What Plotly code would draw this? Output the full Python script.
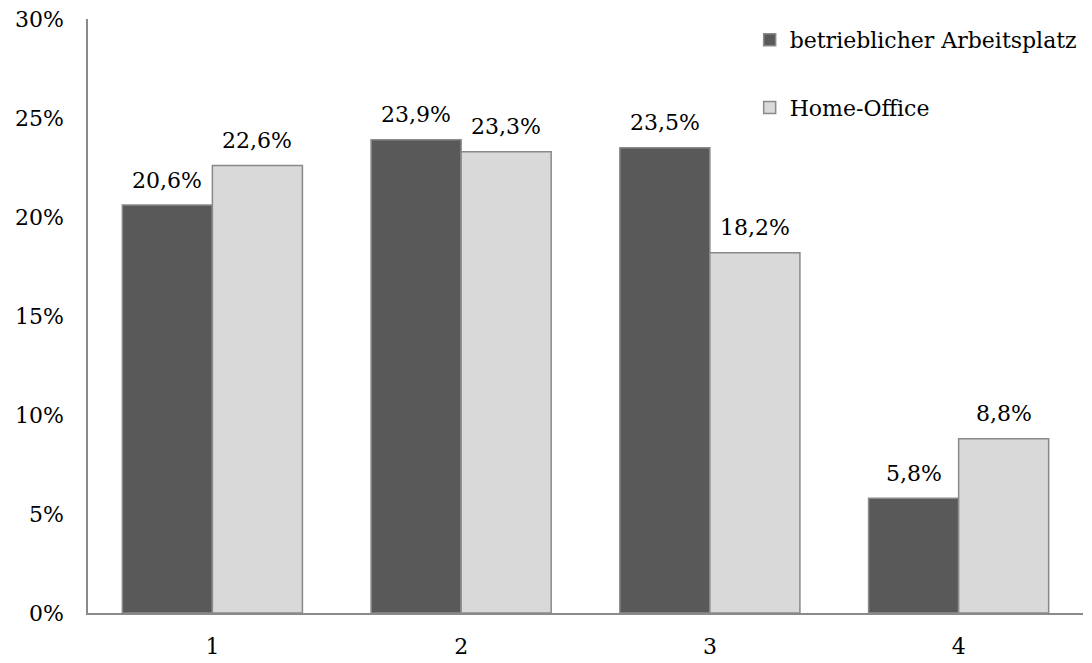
import plotly.graph_objects as go

categories = ["1", "2", "3", "4"]
betrieblich = [20.6, 23.9, 23.5, 5.8]
home_office = [22.6, 23.3, 18.2, 8.8]
series_names = ["betrieblicher Arbeitsplatz", "Home-Office"]

FONT = "DejaVu Serif"
FS = 22
fig = go.Figure()
fig.add_trace(go.Bar(
    x=categories, y=betrieblich, name=series_names[0], legendgroup="a",
    marker=dict(color="#595959", line=dict(color="#8a8a8a", width=1.5)),
))
fig.add_trace(go.Bar(
    x=categories, y=home_office, name=series_names[1], legendgroup="b",
    marker=dict(color="#d9d9d9", line=dict(color="#8a8a8a", width=1.5)),
))
for vals, shift in ((betrieblich, -45), (home_office, 45)):
    for i, v in enumerate(vals):
        fig.add_annotation(x=i, y=v, text=f"{v:.1f}%".replace(".", ","),
                           showarrow=False, xshift=shift, yshift=25,
                           yanchor="middle",
                           font=dict(family=FONT, size=FS, color="#000000"))

fig.update_layout(
    width=1092, height=663,
    margin=dict(l=88, r=9, t=19, b=50),
    paper_bgcolor="white", plot_bgcolor="white",
    barmode="group", bargap=0.276, bargroupgap=0,
    font=dict(family=FONT, size=FS, color="#000000"),
    showlegend=True,
    legend=dict(x=0.665, y=1.0, xanchor="left", yanchor="top",
                font=dict(family=FONT, size=FS), tracegroupgap=36,
                bgcolor="rgba(0,0,0,0)"),
    xaxis=dict(type="category", showline=True, linecolor="#8a8a8a",
               linewidth=1.5, ticks="", showgrid=False,
               ticklabelstandoff=13, automargin=False),
    yaxis=dict(range=[0, 30], dtick=5, ticksuffix="%", showline=True,
               linecolor="#8a8a8a", linewidth=1.5, ticks="", showgrid=False,
               zeroline=False, ticklabelstandoff=18, automargin=False),
)
fig.write_html("out.html")
